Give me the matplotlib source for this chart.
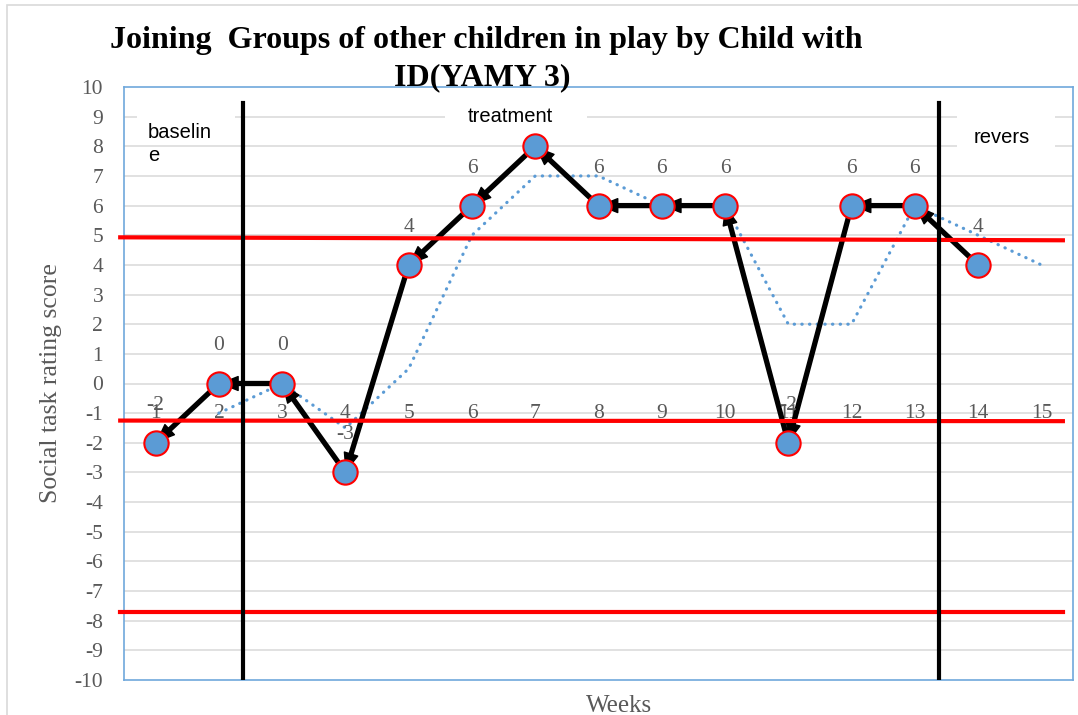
import numpy as np
import matplotlib
matplotlib.use("Agg")
import matplotlib.pyplot as plt
from matplotlib.patches import Rectangle

# ---- data -------------------------------------------------------------
weeks = list(range(1, 16))
week_labels = [str(w) for w in weeks]
scores = [-2, 0, 0, -3, 4, 6, 8, 6, 6, 6, -2, 6, 6, 4]          # weeks 1..14
trend = [np.nan, -1, 0, -1.5, 0.5, 5, 7, 7, 6, 6, 2, 2, 6, 5, 4]  # 2-week moving average
y_ticks = list(range(-10, 11))

# reference lines (level at left end, level at right end)
red_levels = [(4.93, 4.83), (-1.25, -1.27), (-7.72, -7.72)]
phase_breaks = [2.38, 13.38]
phase_names = ["baselin\ne", "treatment", "revers"]

# ---- styling ----------------------------------------------------------
SERIF = "Liberation Serif"
SANS = "Liberation Sans"
GREY = "#595959"
BLUE = "#5b9bd5"

W, H = 1078, 715
fig = plt.figure(figsize=(W / 100, H / 100), dpi=100)
fig.patch.set_facecolor("white")

# outer chart frame
fig.patches.append(Rectangle((7 / W, -0.05), 1.2, 1 - 5 / H + 0.05,
                             transform=fig.transFigure, fill=False,
                             edgecolor="#d9d9d9", linewidth=1.2))

left, right, top, bottom = 124, 1073, 87, 680
ax = fig.add_axes([left / W, 1 - bottom / H, (right - left) / W, (bottom - top) / H])
ax.set_xlim(0.5, 15.5)
ax.set_ylim(-10, 10)

# grid
for yv in y_ticks[1:-1]:
    ax.axhline(yv, color="#d9d9d9", lw=1.1, zorder=0)

for s in ax.spines.values():
    s.set_color("#6fa8dc")
    s.set_linewidth(1.2)
ax.spines["bottom"].set_visible(False)

# bottom frame edge (the real bottom spine is moved to y=0 for the category labels)
ax.plot([0, 1], [0, 0], transform=ax.transAxes, color="#6fa8dc", lw=1.2,
        clip_on=False, zorder=1)

ax.set_yticks(y_ticks)
ax.set_yticklabels([str(v) for v in y_ticks], fontfamily=SERIF, fontsize=15.5, color=GREY)
ax.tick_params(axis="y", length=0, pad=15)

ax.spines["bottom"].set_position(("data", 0))
ax.set_xticks(weeks)
ax.set_xticklabels(week_labels, fontfamily=SERIF, fontsize=15.5, color=GREY)
ax.tick_params(axis="x", length=0, pad=15)

# moving-average trend
ax.plot(weeks, trend, color=BLUE, lw=2.3, linestyle=(0, (0.1, 2.3)),
        dash_capstyle="round", zorder=2)

# observed scores
x_obs = weeks[:len(scores)]
ax.plot(x_obs, scores, color="black", lw=3.8, zorder=3, solid_joinstyle="miter")
for i in range(len(scores) - 1):
    ax.annotate("", xy=(x_obs[i], scores[i]), xytext=(x_obs[i + 1], scores[i + 1]),
                arrowprops=dict(arrowstyle="-|>,head_length=12.5,head_width=5",
                                mutation_scale=1, color="black", lw=1,
                                shrinkA=0, shrinkB=0),
                zorder=3)
ax.plot(x_obs, scores, linestyle="none", marker="o", markersize=17.5,
        markerfacecolor=BLUE, markeredgecolor="#ff0000", markeredgewidth=1.5, zorder=4)

for xv, yv in zip(x_obs, scores):
    ax.annotate(str(yv), (xv, yv), xytext=(0, 27), textcoords="offset points",
                ha="center", va="center", fontfamily=SERIF, fontsize=15.5,
                color=GREY, zorder=5)

# red reference lines
for y0, y1 in red_levels:
    ax.plot([0.44, 15.34], [y0, y1], color="#ff0000", lw=3, clip_on=False, zorder=6)

# phase change lines
for xb in phase_breaks:
    ax.plot([xb, xb], [-10, 9.47], color="black", lw=3, zorder=7)

# phase captions on white boxes
boxes = [(0.71, 8.1, 2.25, 9.4), (5.57, 8.5, 7.82, 9.8), (13.67, 7.97, 15.21, 9.4)]
for (x0, y0, x1, y1) in boxes:
    ax.add_patch(Rectangle((x0, y0), x1 - x0, y1 - y0, facecolor="white",
                           edgecolor="none", zorder=8))
ax.text(0.88, 7.5, phase_names[0], ha="left", va="baseline", fontfamily=SANS,
        fontsize=14.5, linespacing=1.25, zorder=9)
ax.text(6.6, 8.82, phase_names[1], ha="center", va="baseline", fontfamily=SANS,
        fontsize=14.5, zorder=9)
ax.text(14.38, 8.1, phase_names[2], ha="center", va="baseline", fontfamily=SANS,
        fontsize=14.5, zorder=9)

# titles
fig.text(486 / W, 1 - 48 / H, "Joining  Groups of other children in play by Child with",
         ha="center", va="baseline", fontfamily=SERIF, fontweight="bold", fontsize=23)
fig.text(482 / W, 1 - 85 / H, "ID(YAMY 3)", ha="center", va="baseline",
         fontfamily=SERIF, fontweight="bold", fontsize=23)
fig.text(51 / W, 1 - 383.5 / H, "Social task rating score", rotation=90,
         ha="center", va="center", fontfamily=SERIF, fontsize=18.5, color=GREY)
fig.text(619 / W, 1 - 712 / H, "Weeks", ha="center", va="baseline",
         fontfamily=SERIF, fontsize=18, color=GREY)

fig.savefig("out.png", dpi=100, facecolor="white")
